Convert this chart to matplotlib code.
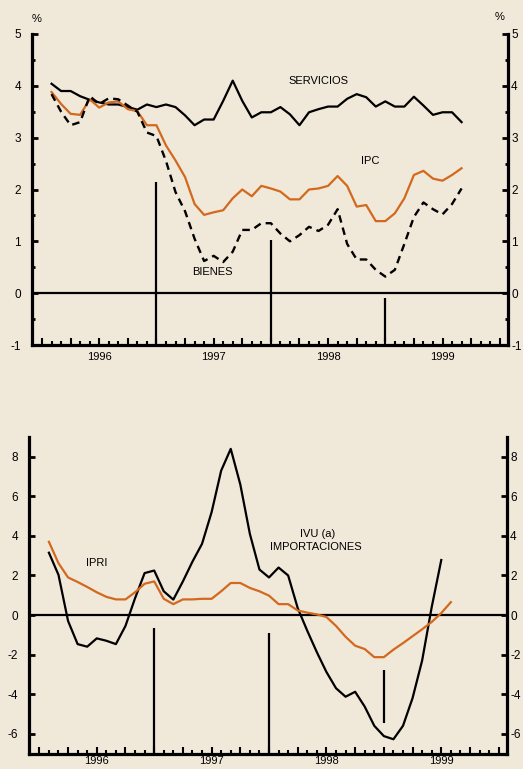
import numpy as np
import matplotlib
matplotlib.use("Agg")
import matplotlib.pyplot as plt
import matplotlib.transforms as mtrans

plt.rcParams['font.family'] = ['Liberation Sans', 'DejaVu Sans']

BG = '#F0E8D9'
ORANGE = '#D2691E'

# ---- Data (monthly, index 0 = Jan 1996) ----
top_start = 1  # Feb 1996
servicios = [4.04, 3.90, 3.90, 3.80, 3.73, 3.68, 3.64, 3.64, 3.59, 3.54, 3.64, 3.59,
             3.64, 3.59, 3.43, 3.24, 3.35, 3.35, 3.71, 4.10, 3.71, 3.39, 3.49, 3.49,
             3.59, 3.45, 3.24, 3.49, 3.55, 3.60, 3.60, 3.75, 3.84, 3.78, 3.60, 3.70,
             3.60, 3.60, 3.79, 3.62, 3.44, 3.49, 3.49, 3.30]
ipc = [3.88, 3.65, 3.46, 3.44, 3.74, 3.58, 3.68, 3.70, 3.55, 3.51, 3.24, 3.24,
       2.85, 2.56, 2.24, 1.72, 1.51, 1.56, 1.60, 1.83, 2.00, 1.87, 2.07, 2.02,
       1.96, 1.81, 1.81, 2.00, 2.02, 2.07, 2.26, 2.07, 1.67, 1.70, 1.39, 1.39,
       1.54, 1.83, 2.28, 2.36, 2.21, 2.17, 2.28, 2.41]
bienes = [3.84, 3.50, 3.24, 3.30, 3.80, 3.65, 3.76, 3.74, 3.62, 3.50, 3.10, 3.03,
          2.55, 1.95, 1.58, 1.05, 0.62, 0.72, 0.60, 0.80, 1.22, 1.22, 1.35, 1.35,
          1.15, 1.00, 1.12, 1.28, 1.20, 1.32, 1.62, 0.95, 0.65, 0.65, 0.45, 0.32,
          0.45, 0.95, 1.47, 1.75, 1.62, 1.52, 1.72, 2.02]

bot_start = 1
ivu = [3.15, 2.03, -0.30, -1.47, -1.60, -1.18, -1.30, -1.47, -0.55, 0.85, 2.12, 2.25,
       1.20, 0.78, 1.70, 2.70, 3.60, 5.20, 7.30, 8.40, 6.60, 4.10, 2.30, 1.90,
       2.40, 2.00, 0.35, -0.80, -1.88, -2.88, -3.70, -4.13, -3.88, -4.63, -5.60, -6.12,
       -6.28, -5.60, -4.20, -2.30, 0.40, 2.78]
ipri = [3.70, 2.62, 1.90, 1.67, 1.42, 1.15, 0.92, 0.79, 0.79, 1.15, 1.58, 1.70,
        0.82, 0.55, 0.79, 0.79, 0.82, 0.82, 1.20, 1.62, 1.62, 1.37, 1.20, 0.98,
        0.55, 0.55, 0.23, 0.12, 0.03, -0.10, -0.55, -1.10, -1.55, -1.72, -2.13, -2.13,
        -1.75, -1.42, -1.07, -0.72, -0.35, 0.10, 0.65]

years = ['1996', '1997', '1998', '1999']

# vertical reference bars: (month, low, high)
top_bars_x = [12, 24, 36]
top_bars_lo = [-1.0, -0.95, -0.95]
top_bars_hi = [2.15, 1.03, -0.10]
bot_bars_x = [12, 24, 36]
bot_bars_lo = [-7.0, -7.0, -5.47]
bot_bars_hi = [-0.68, -0.93, -2.80]

XLIM = (-1.05, 48.9)

fig = plt.figure(figsize=(5.23, 7.69), dpi=100, facecolor=BG)

W, H = 523, 769
def add_ax(x0, x1, ytop, ybot):
    return fig.add_axes([x0 / W, 1 - ybot / H, (x1 - x0) / W, (ybot - ytop) / H])

ax1 = add_ax(32, 508.3, 34, 345)
ax2 = add_ax(29.3, 507.3, 437, 753.5)

def style(ax, ylim, yticks, yminor=None, xpad=5):
    ax.set_facecolor(BG)
    ax.set_xlim(*XLIM)
    ax.set_ylim(*ylim)
    for s in ['left', 'right', 'bottom']:
        ax.spines[s].set_linewidth(2.3)
        ax.spines[s].set_color('black')
    ax.spines['top'].set_visible(False)
    ax.set_yticks(yticks)
    ax.set_yticklabels([str(v) for v in yticks])
    if yminor is not None:
        ax.set_yticks(yminor, minor=True)
    ax.tick_params(axis='y', which='major', direction='in', length=4, width=2,
                   left=True, right=True, labelleft=True, labelright=True,
                   labelsize=8.5, pad=2, colors='black')
    ax.tick_params(axis='y', which='minor', direction='in', length=2.5, width=2,
                   left=True, right=True)
    q = np.arange(0, 49, 3)
    ax.set_xticks(q)
    labels = []
    for m in q:
        labels.append(years[m // 12] if (m % 12 == 6 and m // 12 < len(years)) else '')
    ax.set_xticklabels(labels)
    ax.set_xticks(np.arange(0, 49, 1), minor=True)
    ax.tick_params(axis='x', which='major', direction='in', length=5, width=1.5,
                   labelsize=8, pad=xpad)
    ax.tick_params(axis='x', which='minor', direction='in', length=3, width=1.5)
    ax.axhline(0, color='black', lw=1.6, zorder=2)
    off = mtrans.ScaledTranslation(-6 / 72, 0, fig.dpi_scale_trans)
    for t in ax.yaxis.get_major_ticks():
        t.label1.set_transform(t.label1.get_transform() + off)

style(ax1, (-1, 5), [-1, 0, 1, 2, 3, 4, 5], np.arange(-0.5, 5, 1.0), xpad=5)
style(ax2, (-7, 9), [-6, -4, -2, 0, 2, 4, 6, 8], xpad=1.5)

# top panel
ax1.plot(np.arange(top_start, top_start + len(servicios)), servicios,
         color='black', lw=1.6, zorder=3)
ax1.plot(np.arange(top_start, top_start + len(ipc)), ipc, color=ORANGE, lw=1.6, zorder=3)
ax1.plot(np.arange(top_start, top_start + len(bienes)), bienes, color='black', lw=1.7,
         dashes=(3.2, 2.2), zorder=3)
ax1.vlines(top_bars_x, top_bars_lo, top_bars_hi, colors='black', lw=1.6, zorder=3)

fig.text(318 / W, 1 - 80.7 / H, 'SERVICIOS', fontsize=8, ha='center', va='center')
fig.text(370 / W, 1 - 160.7 / H, 'IPC', fontsize=8, ha='center', va='center')
fig.text(212 / W, 1 - 271.7 / H, 'BIENES', fontsize=8, ha='center', va='center')
fig.text(37 / W, 1 - 19 / H, '%', fontsize=8, ha='center', va='center')
fig.text(500 / W, 1 - 17 / H, '%', fontsize=8, ha='center', va='center')

# bottom panel
ax2.plot(np.arange(bot_start, bot_start + len(ivu)), ivu, color='black', lw=1.6, zorder=3)
ax2.plot(np.arange(bot_start, bot_start + len(ipri)), ipri, color=ORANGE, lw=1.6, zorder=3)
ax2.vlines(bot_bars_x, bot_bars_lo, bot_bars_hi, colors='black', lw=1.6, zorder=3)

fig.text(318 / W, 1 - 534 / H, 'IVU (a)', fontsize=8, ha='center', va='center')
fig.text(316 / W, 1 - 546.7 / H, 'IMPORTACIONES', fontsize=8, ha='center', va='center')
fig.text(97 / W, 1 - 563.3 / H, 'IPRI', fontsize=8, ha='center', va='center')

fig.savefig('out.png', dpi=100, facecolor=BG)
